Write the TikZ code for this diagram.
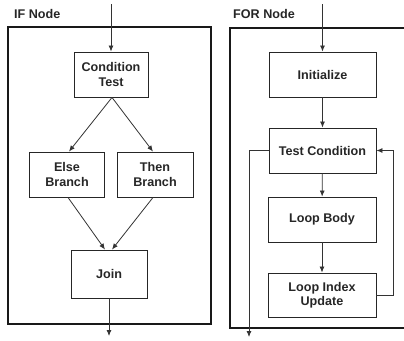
\documentclass[tikz,border=0pt]{standalone}
\usepackage{fontspec}
\setmainfont{Liberation Sans}
\usetikzlibrary{arrows.meta}
\begin{document}
\begin{tikzpicture}[x=1pt,y=-1pt,
  frame/.style={line width=1.8pt,draw=black!90},
  blk/.style={draw=black!85,line width=0.9pt,minimum width=#1,minimum height=45pt,
    inner sep=1pt,align=center,font=\fontsize{12.6}{14.5}\selectfont\bfseries,text=black!85},
  blk/.default=76pt,
  title/.style={anchor=west,font=\fontsize{12.6}{14}\selectfont\bfseries,text=black!85,inner sep=0pt},
  flow/.style={draw=black!80,line width=0.8pt,-{Latex[length=6pt,width=5pt]}},
  wire/.style={draw=black!80,line width=0.8pt}]
\useasboundingbox (0,0) rectangle (404,340);

% panel frames
\draw[frame] (8,27) rectangle (211,324);
\draw[frame] (405,28) -- (230,28) -- (230,328) -- (405,328);

% titles
\node[title] (iftitle) at (14,14) {IF Node};
\node[title] (fortitle) at (233,14) {FOR Node};

% IF node
\node[blk=74pt] (cond) at (111,74.5) {Condition\\Test};
\node[blk=75pt] (else) at (67,174.5) {Else\\Branch};
\node[blk=76pt] (then) at (155,174.5) {Then\\Branch};
\node[blk=76pt,minimum height=48pt] (join) at (109,274) {Join};
\coordinate (ifin) at (111,4);
\coordinate (ifout) at (109,336);

\draw[flow] (ifin) -- (cond.north);
\draw[flow] ([xshift=1pt]cond.south) -- ([xshift=2pt]else.north);
\draw[flow] ([xshift=1pt]cond.south) -- ([xshift=-2pt]then.north);
\draw[flow] ([xshift=1pt]else.south) -- ([xshift=-4pt]join.north);
\draw[flow] ([xshift=-2pt]then.south) -- ([xshift=3pt]join.north);
\draw[flow] (join.south) -- (ifout);

% FOR node
\node[blk=107pt] (init) at (322.5,74.5) {Initialize};
\node[blk=107pt] (test) at (322.5,150.5) {Test Condition};
\node[blk=108pt] (body) at (322,219.5) {Loop Body};
\node[blk=108pt,minimum height=44pt] (upd) at (322,295) {Loop Index\\Update};
\coordinate (forin) at (322.5,4);
\coordinate (forout) at (249,337);
\coordinate (back) at (393,0);

\draw[flow] (forin) -- (init.north);
\draw[flow] (init) -- (test);
\draw[flow] (test) -- (body);
\draw[flow] (body) -- (upd);
\draw[flow] (upd.east) -- (upd.east -| back) -- (test.east -| back) -- (test.east);
\draw[flow] (test.west) -- (test.west -| forout) -- (forout);
\end{tikzpicture}
\end{document}
